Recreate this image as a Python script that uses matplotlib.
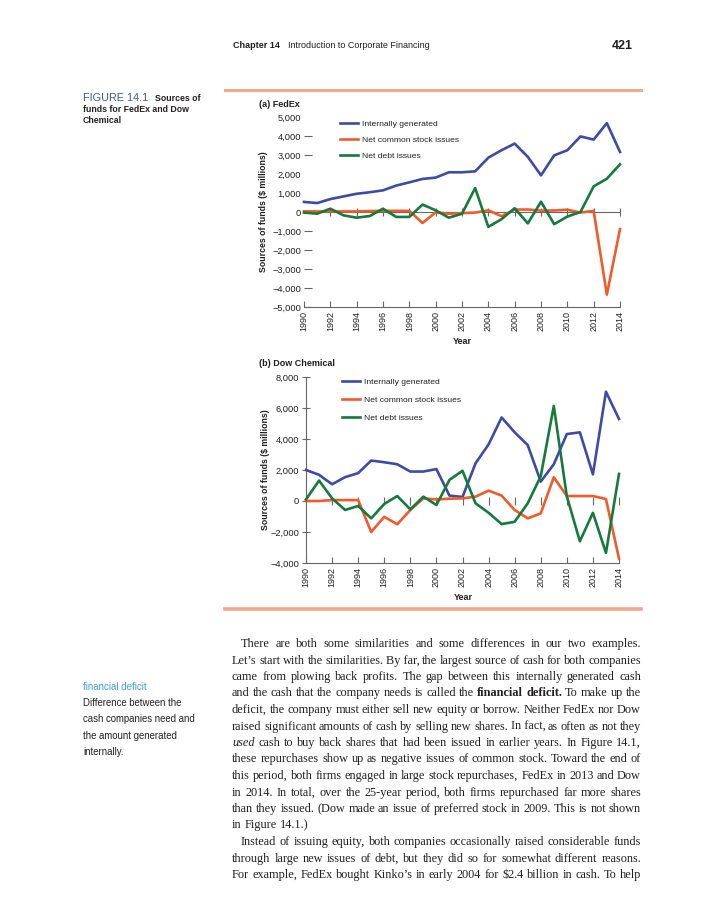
import matplotlib
matplotlib.use('Agg')
import matplotlib.pyplot as plt

W, H = 702, 900

years = list(range(1990, 2015))
even_years = list(range(1990, 2015, 2))

# FedEx, $ millions
fedex_internal = [530, 470, 680, 820, 960, 1040, 1140, 1390, 1560, 1740, 1810, 2090, 2090,
                  2140, 2860, 3250, 3600, 2900, 1930, 2980, 3250, 3980, 3810, 4680, 3160]
fedex_stock = [35, 30, 30, 30, 30, 50, 60, 60, 60, -580, -20, -90, -60,
               -30, 90, -220, 130, 130, 70, 80, 120, -30, 60, -4350, -900]
fedex_debt = [-30, -90, 175, -175, -300, -210, 175, -260, -260, 390, 90, -300, -90,
              1260, -780, -380, 200, -600, 540, -640, -240, 0, 1350, 1750, 2510]

# Dow Chemical, $ millions
dow_internal = [2000, 1690, 1080, 1540, 1800, 2610, 2500, 2370, 1900, 1900, 2060, 350, 260,
                2430, 3650, 5390, 4430, 3610, 1250, 2370, 4320, 4430, 1720, 7050, 5290]
dow_stock = [0, 0, 60, 60, 60, -2000, -1020, -1500, -580, 170, 100, 150, 170,
             280, 670, 350, -580, -1120, -800, 1530, 320, 320, 320, 130, -3720]
dow_debt = [100, 1320, 170, -580, -320, -1120, -190, 320, -540, 280, -260, 1360, 1950,
            -150, -760, -1490, -1340, -150, 1600, 6130, 300, -2600, -760, -3350, 1750]

series_names = ['Internally generated', 'Net common stock issues', 'Net debt issues']
fedex_yticks = list(range(-5000, 5001, 1000))
dow_yticks = list(range(-4000, 8001, 2000))

blue = '#3d4aa8'
orange = '#f15a29'
green = '#157a3c'
gray = '#666666'
ink = '#231f20'
salmon = '#f4a68c'
sans = 'Liberation Sans'
serif = 'Liberation Serif'

fig = plt.figure(figsize=(W / 100, H / 100), dpi=100)
renderer = fig.canvas.get_renderer()


def px_axes(x0, x1, ytop, ybot):
    return fig.add_axes([x0 / W, 1 - ybot / H, (x1 - x0) / W, (ybot - ytop) / H])


def put(x, y, s, **kw):
    kw.setdefault('family', sans)
    kw.setdefault('color', ink)
    kw.setdefault('va', 'baseline')
    return fig.text(x / W, 1 - y / H, s, **kw)


def fmt(v):
    return f'{v:,}'.replace('-', '\u2212')


def draw_chart(ax, internal, stock, debt, yticks, ylim, legend_xy, spacing, dow=False):
    ax.plot(years, internal, color=blue, lw=1.9, label=series_names[0], clip_on=False, zorder=3)
    ax.plot(years, stock, color=orange, lw=1.9, label=series_names[1], clip_on=False, zorder=3)
    ax.plot(years, debt, color=green, lw=1.9, label=series_names[2], clip_on=False, zorder=4)
    ax.set_xlim(1990, 2014)
    ax.set_ylim(*ylim)
    ax.set_xticks(even_years)
    ax.set_xticklabels([str(y) for y in even_years], rotation=90, fontsize=6.5,
                       family=sans, color=ink)
    ax.set_yticks(yticks)
    ax.set_yticklabels([fmt(v) for v in yticks], fontsize=6.7, family=sans, color=ink)
    ax.tick_params(axis='x', direction='in', length=4, width=0.8, color=gray, pad=3)
    for s in ['top', 'right']:
        ax.spines[s].set_visible(False)
    ax.spines['bottom'].set_color(gray)
    ax.spines['bottom'].set_linewidth(0.8)
    if dow:
        ax.spines['left'].set_color(gray)
        ax.spines['left'].set_linewidth(0.8)
        ax.tick_params(axis='y', direction='inout', length=6, width=0.8, color=gray, pad=2)
    else:
        ax.spines['left'].set_visible(False)
        ax.tick_params(axis='y', direction='in', length=6, width=0.8, color=gray, pad=2)
        ax.axhline(0, color=gray, lw=0.8, zorder=1)
        for t in ax.yaxis.get_major_ticks():
            if t.get_loc() in (5000, 2000, 1000, 0):
                t.tick1line.set_visible(False)
    # little tick marks on the zero level
    ax.plot(even_years[1:], [0] * len(even_years[1:]), ls='none', marker='|', ms=6,
            mew=0.8, color=gray, zorder=2, clip_on=False)
    ax.patch.set_alpha(0)
    leg = ax.legend(loc='upper left', bbox_to_anchor=(legend_xy[0] / W, 1 - legend_xy[1] / H),
                    bbox_transform=fig.transFigure, frameon=False, handlelength=2.1,
                    handletextpad=0.45, labelspacing=spacing, borderpad=0, borderaxespad=0,
                    prop={'family': sans, 'size': 6.1})
    for t in leg.get_texts():
        t.set_color(ink)


ax1 = px_axes(304, 620, 117, 307)
draw_chart(ax1, fedex_internal, fedex_stock, fedex_debt, fedex_yticks, (-5000, 5000),
           (340, 120), 0.95)
ax2 = px_axes(306, 619, 377, 563)
draw_chart(ax2, dow_internal, dow_stock, dow_debt, dow_yticks, (-4000, 8000),
           (342, 378), 1.2, dow=True)

# chart labels
put(259, 107, '(a) FedEx', fontsize=6.5, fontweight='bold')
put(259, 366, '(b) Dow Chemical', fontsize=6.5, fontweight='bold')
put(462, 344, 'Year', fontsize=6.5, fontweight='bold', ha='center')
put(463, 600, 'Year', fontsize=6.5, fontweight='bold', ha='center')
put(263, 212, 'Sources of funds ($ millions)', fontsize=6.3, fontweight='bold',
    rotation=90, ha='center', va='center')
put(265, 470, 'Sources of funds ($ millions)', fontsize=6.3, fontweight='bold',
    rotation=90, ha='center', va='center')

# header and rules
put(233, 48, 'Chapter 14', fontsize=6.5, fontweight='bold')
put(288, 48, 'Introduction to Corporate Financing', fontsize=6.5)
put(612, 49, '421', fontsize=9, fontweight='bold')
fig.add_artist(plt.Line2D([225 / W, 641 / W], [1 - 90 / H, 1 - 90 / H], color=salmon, lw=2.2))
fig.add_artist(plt.Line2D([225 / W, 641 / W], [1 - 609 / H, 1 - 609 / H], color=salmon, lw=2.6))

# figure caption
put(83, 101, 'FIGURE 14.1', fontsize=7.8, color='#3b55a8')
put(155, 101, 'Sources of', fontsize=6.3, fontweight='bold')
put(83, 112, 'funds for FedEx and Dow', fontsize=6.3, fontweight='bold')
put(83, 123, 'Chemical', fontsize=6.3, fontweight='bold')

# margin note
lead = 16.5
base0 = 647
note_base = 690
put(83, note_base, 'financial deficit', fontsize=7.0, color='#3fa0d8')
note = ['Difference between the', 'cash companies need and', 'the amount generated',
        'internally.']
for i, s in enumerate(note):
    put(83, note_base + (1 + i) * 16.2, s, fontsize=6.9)

# body text, justified by hand (\u00a0 keeps two words in one text object)
body = [
    (True, True, "There are both some similarities and some differences in our two examples."),
    (False, True, "Let\u2019s start with the similarities. By\u00a0far, the largest source of cash for both companies"),
    (False, True, "came from plowing back profits. The gap between this internally generated cash"),
    (False, True, "and the cash that the company needs is called the **financial **deficit. To make up the"),
    (False, True, "deficit, the company must either sell new equity or borrow. Neither FedEx nor Dow"),
    (False, True, "raised significant amounts of cash by selling new shares. In\u00a0fact, as often as not they"),
    (False, True, "_used cash to buy back shares that had been issued in earlier years. In Figure 14.1,"),
    (False, True, "these repurchases show up as negative issues of common stock. Toward the end of"),
    (False, True, "this period, both firms engaged in large stock repurchases, FedEx in 2013 and Dow"),
    (False, True, "in 2014. In total, over the 25-year period, both firms repurchased far more shares"),
    (False, True, "than they issued. (Dow made an issue of preferred stock in 2009. This is not shown"),
    (False, False, "in Figure 14.1.)"),
    (True, True, "Instead of issuing equity, both companies occasionally raised considerable funds"),
    (False, True, "through large new issues of debt, but they did so for somewhat different reasons."),
    (False, True, "For example, FedEx bought Kinko\u2019s in early 2004 for $2.4 billion in cash. To help"),
]
left, right, indent = 232, 641, 9


def words_of(line):
    out = []
    for w in line.split(' '):
        if w.startswith('**'):
            out.append((w[2:], {'fontweight': 'bold'}))
        elif w.startswith('_'):
            out.append((w[1:], {'fontstyle': 'italic'}))
        else:
            out.append((w, {}))
    return out


def width(s, size, style):
    t = fig.text(0, 0, s, family=serif, fontsize=size, **style)
    wd = t.get_window_extent(renderer).width
    t.remove()
    return wd


# choose a size so the widest justified line just fits
test = 10
widest = 0
for ind, just, line in body:
    if just:
        ws = words_of(line)
        tot = sum(width(w, test, st) for w, st in ws) + (len(ws) - 1) * width(' ', test, {}) * 0.85
        widest = max(widest, tot / (right - left - (indent if ind else 0)))
size = test / widest
space = width('x x', size, {}) - width('xx', size, {})

for i, (ind, just, line) in enumerate(body):
    y = round(base0 + i * lead)
    x0 = left + (indent if ind else 0)
    ws = words_of(line)
    wds = [width(w, size, st) for w, st in ws]
    gap = (right - x0 - sum(wds)) / (len(ws) - 1) if just else space
    x = x0
    for (w, st), wd in zip(ws, wds):
        put(x, y, w, family=serif, fontsize=size, **st)
        x += wd + gap

fig.savefig('out.png', dpi=100, facecolor='white')
